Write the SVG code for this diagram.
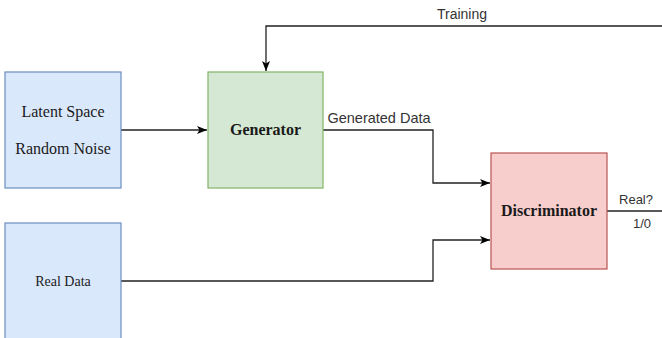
<svg xmlns="http://www.w3.org/2000/svg" width="662" height="338" viewBox="0 0 662 338">
<style>
.blue{fill:#dae8fc;stroke:#6c8ebf;stroke-width:1.2}
.green{fill:#d5e8d4;stroke:#82b366;stroke-width:1.2}
.red{fill:#f8cecc;stroke:#b85450;stroke-width:1.2}
.serif{font-family:"Liberation Serif","Times New Roman",serif;font-size:16px;fill:#1a1a1a;text-anchor:middle}
.small{font-size:14px}
.bold{font-weight:bold}
.sans{font-family:"Liberation Sans",Arial,sans-serif;fill:#333;text-anchor:middle}
.conn{fill:none;stroke:#222;stroke-width:1.3}
</style>
<defs>
<marker id="arr" viewBox="0 0 10 10" refX="10" refY="5" markerWidth="10" markerHeight="10" markerUnits="userSpaceOnUse" orient="auto">
<path d="M0,1 L10,5 L0,9 L2.5,5 z" fill="#000"/>
</marker>
</defs>
<rect width="662" height="338" fill="#fff"/>
<g id="connectors">
<path class="conn" d="M121,130 H207" marker-end="url(#arr)"/>
<path class="conn" d="M662,26 H266 V71" marker-end="url(#arr)"/>
<path class="conn" d="M323,130 H433 V183 H490" marker-end="url(#arr)"/>
<path class="conn" d="M121,281 H433 V240 H490" marker-end="url(#arr)"/>
<path class="conn" d="M607,211 H662"/>
<text class="sans" x="462" y="19" font-size="14">Training</text>
<text class="sans" x="379" y="123" font-size="14.5">Generated Data</text>
<text class="sans" x="636" y="204" font-size="13">Real?</text>
<text class="sans" x="642" y="228" font-size="13">1/0</text>
</g>
<g id="latent">
<rect class="blue" x="5" y="72" width="116" height="116"/>
<text class="serif" x="63" y="117">Latent Space</text>
<text class="serif" x="63" y="154">Random Noise</text>
</g>
<g id="generator">
<rect class="green" x="208" y="72" width="115" height="116"/>
<text class="serif bold" x="265.5" y="135">Generator</text>
</g>
<g id="discriminator">
<rect class="red" x="491" y="153" width="116" height="116"/>
<text class="serif bold" x="549" y="216">Discriminator</text>
</g>
<g id="realdata">
<rect class="blue" x="5" y="223" width="116" height="125"/>
<text class="serif small" x="63" y="286">Real Data</text>
</g>
</svg>
